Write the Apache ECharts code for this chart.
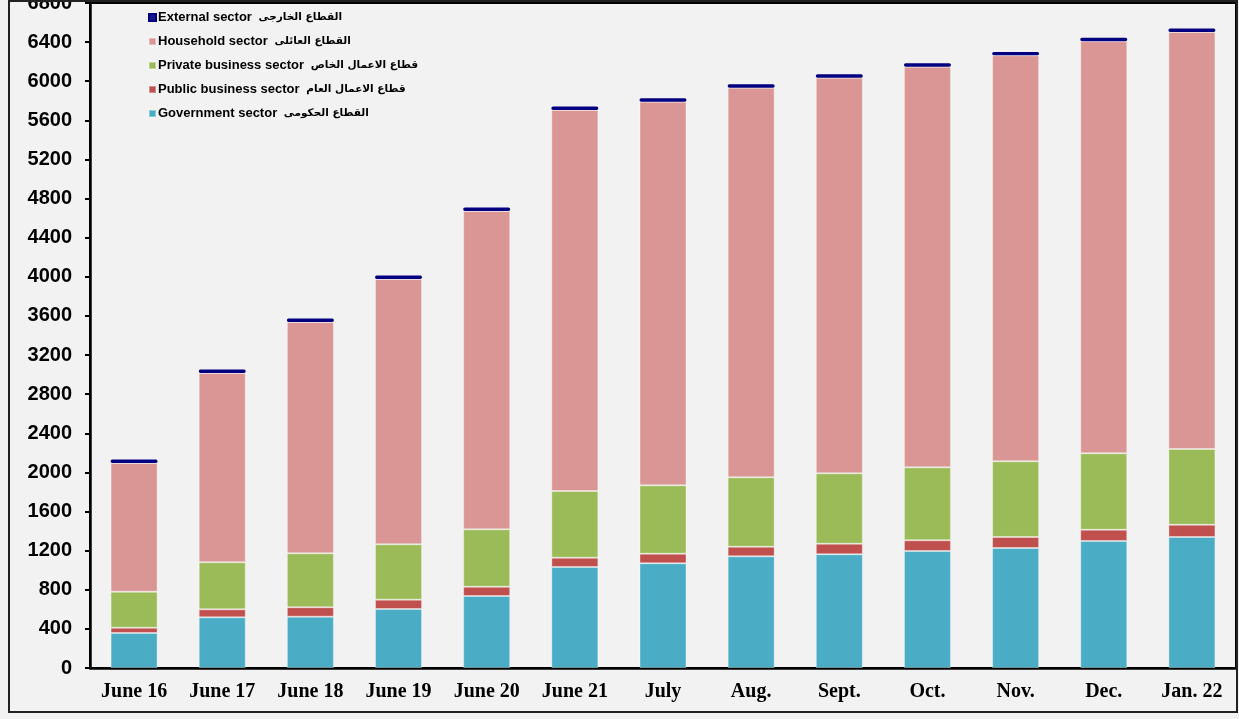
<!DOCTYPE html>
<html>
<head>
<meta charset="utf-8">
<script src="https://cdn.jsdelivr.net/npm/echarts@6/dist/echarts.min.js"></script>
<style>
html,body{margin:0;padding:0;background:#f2f2f2;}
#chart{width:1239px;height:719px;}
</style>
</head>
<body>
<div id="chart"></div>
<script>
const categories = ['June 16','June 17','June 18','June 19','June 20','June 21','July','Aug.','Sept.','Oct.','Nov.','Dec.','Jan. 22'];
const government = [358, 518, 525, 603, 736, 1033, 1071, 1142, 1163, 1196, 1227, 1299, 1340];
const publicBusiness = [54, 82, 96, 96, 95, 95, 98, 98, 108, 110, 113, 115, 125];
const privateBusiness = [368, 481, 552, 566, 587, 682, 699, 710, 720, 746, 774, 782, 775];
const household = [1316, 1936, 2365, 2713, 3255, 3896, 3923, 3984, 4045, 4097, 4151, 4213, 4264];
const external = [35, 35, 35, 35, 35, 35, 35, 35, 35, 35, 35, 35, 35];

const names = {
  ext: ['External sector', 'القطاع الخارجى'],
  hh: ['Household sector', 'القطاع العائلى'],
  prv: ['Private business sector', 'قطاع الاعمال الخاص'],
  pub: ['Public business sector', 'قطاع الاعمال العام'],
  gov: ['Government sector', 'القطاع الحكومى']
};

const chart = echarts.init(document.getElementById('chart'), null, {renderer: 'canvas'});
const barW = 47;
function mk(key, data, color, extra) {
  return Object.assign({
    name: key,
    type: 'bar',
    stack: 'total',
    barWidth: barW,
    data: data,
    itemStyle: {color: color, borderColor: 'rgba(255,255,255,0.35)', borderWidth: 1},
    emphasis: {disabled: true}
  }, extra || {});
}
const option = {
  backgroundColor: '#f2f2f2',
  animation: false,
  grid: {left: 90, right: 3, top: 3, bottom: 51, outerBoundsMode: 'none', containLabel: false, show: true, borderColor: '#000', borderWidth: 2, backgroundColor: 'transparent'},
  legend: {
    orient: 'vertical',
    left: 143,
    top: 6,
    itemWidth: 7,
    itemHeight: 7,
    itemGap: 9,
    icon: 'rect',
    data: ['ext','hh','prv','pub','gov'],
    formatter: function (k) { return '{en|' + names[k][0] + '}  {ar|' + names[k][1] + '}'; },
    textStyle: {
      padding: [0,0,0,-3],
      rich: {
        en: {fontFamily: 'Liberation Sans, Arial, sans-serif', fontWeight: 'bold', fontSize: 13, color: '#000', lineHeight: 15},
        ar: {fontFamily: 'DejaVu Sans, sans-serif', fontWeight: 'bold', fontSize: 10.5, color: '#000', lineHeight: 15}
      }
    },
    itemGap: 9,
    height: 120
  },
  xAxis: {
    type: 'category',
    data: categories,
    axisLine: {lineStyle: {color: '#000', width: 2.5}},
    axisTick: {show: true, inside: true, alignWithLabel: true, length: 3, lineStyle: {color: '#000', width: 2}},
    axisLabel: {fontFamily: 'Liberation Serif, Times New Roman, serif', fontWeight: 'bold', fontSize: 20, color: '#000', margin: 14}
  },
  yAxis: {
    type: 'value',
    min: 0, max: 6800, interval: 400,
    splitLine: {show: false},
    axisLine: {show: true, lineStyle: {color: '#000', width: 2.5}},
    axisTick: {show: true, length: 5, lineStyle: {color: '#000', width: 2}},
    axisLabel: {fontFamily: 'Liberation Sans, Arial, sans-serif', fontWeight: 'bold', fontSize: 20, color: '#000', margin: 18,
      formatter: function (v) { return String(v); }}
  },
  series: [
    mk('gov', government, '#4bacc6'),
    mk('pub', publicBusiness, '#c0504d'),
    mk('prv', privateBusiness, '#9bbb59'),
    mk('hh', household, '#d99694'),
    mk('ext', external, '#1a1a90', {itemStyle: {color: '#1a1a90', borderColor: '#000080', borderWidth: 2.5, borderRadius: 2}})
  ],
  graphic: [{
    type: 'rect',
    shape: {x: 9, y: 1, width: 1228, height: 711},
    style: {fill: 'none', stroke: '#222', lineWidth: 2},
    silent: true, z: 100
  }]
};
option.legend.itemGap = 11;
chart.setOption(option);
</script>
</body>
</html>
